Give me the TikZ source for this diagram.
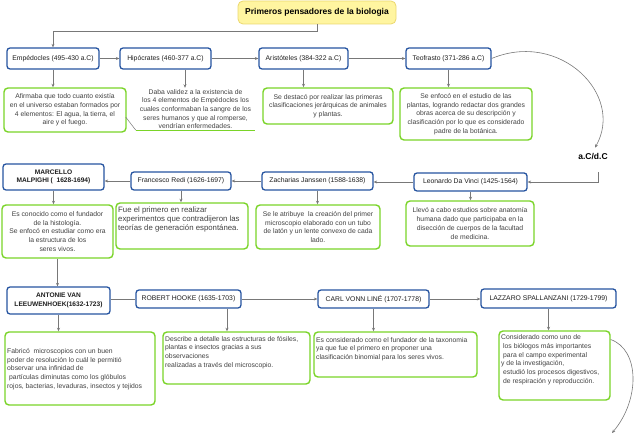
\documentclass[tikz,border=0pt]{standalone}
\usepackage{fontspec}
\setmainfont{Liberation Sans}
\usetikzlibrary{arrows.meta,calc}
\definecolor{hblue}{RGB}{38,84,160}
\definecolor{bgreen}{RGB}{122,212,40}
\definecolor{cgray}{RGB}{120,120,120}
\definecolor{btext}{RGB}{65,65,65}
\definecolor{htext}{RGB}{30,30,30}
\definecolor{tyellow}{RGB}{255,245,160}
\definecolor{tborder}{RGB}{235,215,110}
\begin{document}
\begin{tikzpicture}[x=1pt,y=-1pt,
  titlebox/.style={draw=tborder, fill=tyellow, line width=0.8pt, rounded corners=5pt, inner sep=1pt, text=black, font=\bfseries\fontsize{8.5}{10}\selectfont},
  hdr/.style={draw=hblue, line width=1.3pt, rounded corners=3pt, fill=white, inner sep=1pt, align=center, text=htext, font=\fontsize{6.8}{8.3}\selectfont},
  hdrb/.style={hdr, font=\bfseries\fontsize{6.6}{8.3}\selectfont},
  gbox/.style={draw=bgreen, line width=1.4pt, rounded corners=4pt, fill=white, inner sep=1pt, align=center, text=btext, font=\fontsize{6.8}{8.7}\selectfont},
  btxt/.style={inner sep=0pt, align=left, text=btext, font=\fontsize{6.8}{8.7}\selectfont},
  conn/.style={draw=cgray, line width=0.6pt},
  arr/.style={conn, -{Stealth[length=3.5pt,width=3pt]}},
]
\useasboundingbox (0,0) rectangle (640,438);

% title
\node[titlebox, minimum width=158pt, minimum height=23pt] (title) at (317,12.5) {Primeros pensadores de la biologia};

% row 1 headers
\node[hdr, minimum width=92pt, minimum height=21pt] (emp) at (53,58.5) {Empédocles (495-430 a.C)};
\node[hdr, minimum width=91pt, minimum height=21pt] (hip) at (165.5,58.5) {Hipócrates (460-377 a.C)};
\node[hdr, minimum width=89pt, minimum height=21pt] (ari) at (303.5,58.5) {Aristóteles (384-322 a.C)};
\node[hdr, minimum width=85pt, minimum height=21pt] (teo) at (448.5,58.5) {Teofrasto (371-286 a.C)};

\draw[arr] (title.south) -- ++(0,7) -| (emp.north);
\draw[arr] (emp.east) -- (hip.west);
\draw[arr] (hip.east) -- (ari.west);
\draw[arr] (ari.east) -- (teo.west);

% row 1 texts
\node[gbox, minimum width=122pt, minimum height=44pt] (empT) at (65,110) {Afirmaba que todo cuanto existía\\en el universo estaban formados por\\4 elementos: El agua, la tierra, el\\aire y el fuego.};
\node[btxt, align=center, minimum width=119pt, minimum height=42pt] (hipT) at (195.5,109) {Daba validez a la existencia de\\los 4 elementos de Empédocles los\\cuales conformaban la sangre de los\\seres humanos y que al romperse,\\vendrían enfermedades.};
\draw[bgreen, line width=1.2pt] (hipT.south west) -- (hipT.south east);
\draw[conn, line width=0.5pt] (hipT.south west) -- ++(-10,-13);
\node[gbox, minimum width=130pt, minimum height=36pt] (ariT) at (328,106) {Se destacó por realizar las primeras\\clasificaciones jerárquicas de animales\\y plantas.};
\node[gbox, minimum width=132pt, minimum height=52pt] (teoT) at (466,114) {Se enfocó en el estudio de las\\plantas, logrando redactar dos grandes\\obras acerca de su descripción y\\clasificación por lo que es considerado\\padre de la botánica.};

\draw[arr] (emp.south) -- (emp.south |- empT.north);
\draw[arr] ([xshift=19.5pt]hip.south) -- ([xshift=19.5pt]hip.south |- hipT.north);
\draw[arr] (ari.south) -- (ari.south |- ariT.north);
\draw[arr] (teo.south) -- (teo.south |- teoT.north);

% a.C / d.C
\node[inner sep=1pt, font=\bfseries\fontsize{8.5}{10}\selectfont] (acdc) at (593,157) {a.C/d.C};
\draw[arr] (teo.east) .. controls (560,30) and (625,95) .. ([xshift=2pt,yshift=5pt]acdc.north);

% row 2 headers
\node[hdrb, minimum width=101pt, minimum height=26pt] (mal) at (53.5,177) {MARCELLO\\MALPIGHI (\ \ 1628-1694)};
\node[hdr, minimum width=100pt, minimum height=18pt] (red) at (181,181) {Francesco Redi (1626-1697)};
\node[hdr, minimum width=111pt, minimum height=18pt] (zac) at (317.5,181) {Zacharias Janssen (1588-1638)};
\node[hdr, minimum width=113pt, minimum height=18pt] (leo) at (470.5,182) {Leonardo Da Vinci (1425-1564)};

\draw[arr] ([xshift=5pt,yshift=-11pt]acdc.south) |- (leo.east);
\draw[arr] (leo.west) -- (leo.west -| zac.east);
\draw[arr] (zac.west) -- (red.east);
\draw[arr] (red.west) -- (red.west -| mal.east);

% row 2 texts
\node[gbox, minimum width=111pt, minimum height=53pt] (malT) at (57.5,231.5) {Es conocido como el fundador\\de la histología.\\Se enfocó en estudiar como era\\la estructura de los\\seres vivos.};
\node[gbox, minimum width=132pt, minimum height=46pt] (redT) at (182,226) {};
\node[btxt, anchor=north west, font=\fontsize{7.8}{9}\selectfont] (redTt) at (118,206.5) {Fue el primero en realizar\\experimentos que contradijeron las\\teorías de generación espontánea.};
\node[gbox, minimum width=124pt, minimum height=44pt] (zacT) at (318,227) {Se le atribuye\ \ la creación del primer\\microscopio elaborado con un tubo\\de latón y un lente convexo de cada\\lado.};
\node[gbox, minimum width=128pt, minimum height=45pt] (leoT) at (470,223.5) {Llevó a cabo estudios sobre anatomía\\humana dado que participaba en la\\disección de cuerpos de la facultad\\de medicina.};

\draw[arr] (mal.south) -- (mal.south |- malT.north);
\draw[arr] (red.south) -- (red.south |- redT.north);
\draw[arr] (zac.south) -- (zac.south |- zacT.north);
\draw[arr] (leo.south) -- (leo.south |- leoT.north);

% row 3 headers
\node[hdrb, minimum width=103pt, minimum height=27pt] (ant) at (58.5,300.5) {ANTONIE VAN\\LEEUWENHOEK(1632-1723)};
\node[hdr, minimum width=105pt, minimum height=18pt] (rob) at (188.5,299) {ROBERT HOOKE (1635-1703)};
\node[hdr, minimum width=111pt, minimum height=18pt] (car) at (373.5,299) {CARL VONN LINÉ (1707-1778)};
\node[hdr, minimum width=135pt, minimum height=19pt] (laz) at (548.5,298.5) {LAZZARO SPALLANZANI (1729-1799)};

\draw[arr] (malT.south) -- (malT.south |- ant.north);
\draw[conn] (rob.west -| ant.east) -- (rob.west);
\draw[arr] (rob.east) -- (car.west);
\draw[arr] (car.east) -- (car.east -| laz.west);

% row 3 texts
\node[gbox, minimum width=150pt, minimum height=73pt] (antT) at (80,368.5) {};
\node[btxt, anchor=west] (antTt) at (7,369) {Fabricó\ \ microscopios con un buen\\poder de resolución lo cuál le permitió\\observar una infinidad de\\\hspace*{2pt}partículas diminutas como los glóbulos\\rojos, bacterias, levaduras, insectos y tejidos};
\node[gbox, minimum width=147pt, minimum height=52pt] (robT) at (236.5,358) {};
\node[btxt, anchor=north west] (robTt) at (165,336) {Describe a detalle las estructuras de fósiles,\\plantas e insectos gracias a sus\\observaciones\\realizadas a través del microscopio.};
\node[gbox, minimum width=163pt, minimum height=45pt] (carT) at (395.5,354.5) {};
\node[btxt, anchor=north west] (carTt) at (316,337) {Es considerado como el fundador de la taxonomia\\ya que fue el primero en proponer una\\clasificación binomial para los seres vivos.};
\node[gbox, minimum width=111pt, minimum height=69pt] (lazT) at (554.5,365.5) {};
\node[btxt, anchor=north west] (lazTt) at (501,334.5) {Considerado como uno de\\\hspace*{2pt}los biólogos más importantes\\\hspace*{2pt}para el campo experimental\\y de la investigación,\\\hspace*{2pt}estudió los procesos digestivos,\\\hspace*{2pt}de respiración y reproducción.};

\draw[arr] (ant.south) -- (ant.south |- antT.north);
\draw[arr] ([xshift=38.5pt]rob.south) -- ([xshift=38.5pt]rob.south |- robT.north);
\draw[arr] (car.south) -- (car.south |- carT.north);
\draw[arr] (laz.south) -- (laz.south |- lazT.north);

\coordinate (cend) at (612,433);
\draw[arr] ([yshift=26pt]lazT.east) .. controls (640,350) and (640,400) .. (cend);
\end{tikzpicture}
\end{document}
